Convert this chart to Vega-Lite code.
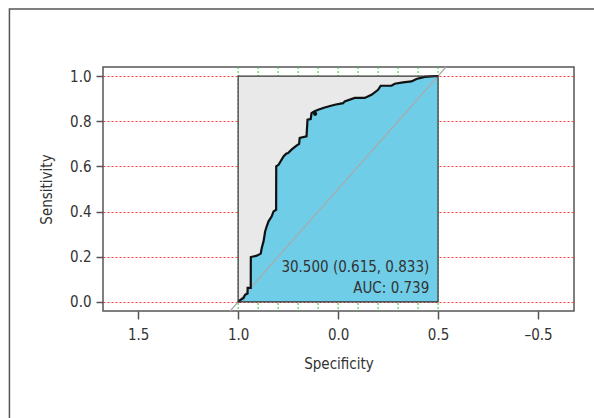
{
  "$schema": "https://vega.github.io/schema/vega-lite/v6.json",
  "width": 471,
  "height": 244,
  "autosize": "none",
  "padding": {"left": 103, "top": 67, "right": 20, "bottom": 107},
  "background": "white",
  "config": {
    "view": {"stroke": "#555555", "strokeWidth": 1.5},
    "font": "DejaVu Sans Condensed, Liberation Sans Narrow, Roboto",
    "axis": {
      "labelFont": "DejaVu Sans Condensed, Liberation Sans Narrow, Roboto",
      "titleFont": "DejaVu Sans Condensed, Liberation Sans Narrow, Roboto",
      "labelFontSize": 15,
      "titleFontSize": 15,
      "titleFontWeight": "normal",
      "labelColor": "#333333",
      "titleColor": "#333333",
      "tickColor": "#555555",
      "tickWidth": 1.5,
      "domain": false
    }
  },
  "datasets": {
    "roc": [
      {"spec": 0.0, "sens": 1.0},
      {"spec": 0.017, "sens": 1.0},
      {"spec": 0.067, "sens": 0.996},
      {"spec": 0.108, "sens": 0.987},
      {"spec": 0.133, "sens": 0.976},
      {"spec": 0.175, "sens": 0.972},
      {"spec": 0.217, "sens": 0.966},
      {"spec": 0.233, "sens": 0.957},
      {"spec": 0.287, "sens": 0.957},
      {"spec": 0.3, "sens": 0.939},
      {"spec": 0.333, "sens": 0.917},
      {"spec": 0.367, "sens": 0.903},
      {"spec": 0.417, "sens": 0.903},
      {"spec": 0.467, "sens": 0.888},
      {"spec": 0.475, "sens": 0.88},
      {"spec": 0.517, "sens": 0.873},
      {"spec": 0.567, "sens": 0.861},
      {"spec": 0.6, "sens": 0.851},
      {"spec": 0.62, "sens": 0.843},
      {"spec": 0.633, "sens": 0.836},
      {"spec": 0.637, "sens": 0.81},
      {"spec": 0.653, "sens": 0.807},
      {"spec": 0.658, "sens": 0.733},
      {"spec": 0.692, "sens": 0.726},
      {"spec": 0.695, "sens": 0.7},
      {"spec": 0.708, "sens": 0.692},
      {"spec": 0.733, "sens": 0.674},
      {"spec": 0.75, "sens": 0.659},
      {"spec": 0.76, "sens": 0.656},
      {"spec": 0.773, "sens": 0.644},
      {"spec": 0.798, "sens": 0.607},
      {"spec": 0.8095, "sens": 0.6},
      {"spec": 0.81, "sens": 0.408},
      {"spec": 0.823, "sens": 0.401},
      {"spec": 0.832, "sens": 0.379},
      {"spec": 0.848, "sens": 0.357},
      {"spec": 0.857, "sens": 0.335},
      {"spec": 0.865, "sens": 0.312},
      {"spec": 0.873, "sens": 0.268},
      {"spec": 0.882, "sens": 0.239},
      {"spec": 0.887, "sens": 0.214},
      {"spec": 0.907, "sens": 0.205},
      {"spec": 0.9365, "sens": 0.199},
      {"spec": 0.937, "sens": 0.062},
      {"spec": 0.9525, "sens": 0.062},
      {"spec": 0.953, "sens": 0.037},
      {"spec": 0.965, "sens": 0.032},
      {"spec": 0.973, "sens": 0.018},
      {"spec": 0.993, "sens": 0.006},
      {"spec": 1.0, "sens": 0.0}
    ],
    "vgrid": [
      {"spec": 0.0}, {"spec": 0.1}, {"spec": 0.2}, {"spec": 0.3}, {"spec": 0.4},
      {"spec": 0.5}, {"spec": 0.6}, {"spec": 0.7}, {"spec": 0.8}, {"spec": 0.9}, {"spec": 1.0}
    ],
    "diag": [
      {"spec": -0.04, "sens": 1.04},
      {"spec": 1.04, "sens": -0.04}
    ],
    "best": [
      {"spec": 0.615, "sens": 0.833}
    ],
    "labels": [
      {"line": 1, "text": "30.500 (0.615, 0.833)"},
      {"line": 2, "text": "AUC: 0.739"}
    ],
    "one": [{"k": 1}]
  },
  "layer": [
    {
      "data": {"name": "vgrid"},
      "mark": {"type": "rule", "color": "#33cc33", "strokeDash": [2, 2], "strokeWidth": 1},
      "encoding": {
        "x": {
          "field": "spec", "type": "quantitative",
          "scale": {"domain": [1.676, -0.68], "nice": false, "zero": false},
          "axis": {
            "title": "Specificity",
            "values": [1.5, 1.0, 0.5, 0.0, -0.5],
            "labelExpr": "datum.value == 0.5 ? '0.0' : datum.value == 0 ? '0.5' : datum.value == -0.5 ? '\u20130.5' : format(datum.value, '.1f')",
            "grid": false,
            "tickSize": 8,
            "labelPadding": 8,
            "titlePadding": 14
          }
        }
      }
    },
    {
      "data": {"name": "one"},
      "mark": {"type": "rect", "fill": "#e8e9e8"},
      "encoding": {
        "x": {"datum": 1.0, "type": "quantitative"},
        "x2": {"datum": 0.0},
        "y": {
          "datum": 0.0, "type": "quantitative",
          "scale": {"domain": [-0.04, 1.04], "nice": false, "zero": false},
          "axis": {
            "title": "Sensitivity",
            "values": [0, 0.2, 0.4, 0.6, 0.8, 1.0],
            "format": ".1f",
            "grid": true,
            "gridColor": "#ff3b3b",
            "gridDash": [2, 2],
            "gridWidth": 1,
            "tickSize": 7,
            "labelPadding": 5,
            "titlePadding": 15
          }
        },
        "y2": {"datum": 1.0}
      }
    },
    {
      "data": {"name": "roc"},
      "mark": {"type": "area", "fill": "#6fcde8", "fillOpacity": 1},
      "encoding": {
        "x": {"field": "spec", "type": "quantitative"},
        "y": {"field": "sens", "type": "quantitative"},
        "y2": {"datum": 0}
      }
    },
    {
      "data": {"name": "diag"},
      "mark": {"type": "line", "color": "#aaaaaa", "strokeWidth": 1.2, "clip": false},
      "encoding": {
        "x": {"field": "spec", "type": "quantitative"},
        "y": {"field": "sens", "type": "quantitative"}
      }
    },
    {
      "data": {"name": "roc"},
      "mark": {"type": "line", "color": "#111111", "strokeWidth": 2.2, "strokeJoin": "miter"},
      "encoding": {
        "x": {"field": "spec", "type": "quantitative"},
        "y": {"field": "sens", "type": "quantitative"}
      }
    },
    {
      "data": {"name": "best"},
      "mark": {"type": "point", "filled": true, "color": "#111111", "size": 18, "opacity": 1},
      "encoding": {
        "x": {"field": "spec", "type": "quantitative"},
        "y": {"field": "sens", "type": "quantitative"}
      }
    },
    {
      "data": {"name": "one"},
      "mark": {"type": "rect", "fill": null, "stroke": "#333333", "strokeWidth": 1.2},
      "encoding": {
        "x": {"datum": 1.0, "type": "quantitative"},
        "x2": {"datum": 0.0},
        "y": {"datum": 0.0, "type": "quantitative"},
        "y2": {"datum": 1.0}
      }
    },
    {
      "data": {"name": "labels"},
      "transform": [{"filter": "datum.line == 1"}],
      "mark": {"type": "text", "align": "right", "baseline": "alphabetic", "fontSize": 15, "color": "#333333"},
      "encoding": {
        "x": {"datum": 0.044, "type": "quantitative"},
        "y": {"datum": 0.133, "type": "quantitative"},
        "text": {"field": "text"}
      }
    },
    {
      "data": {"name": "labels"},
      "transform": [{"filter": "datum.line == 2"}],
      "mark": {"type": "text", "align": "right", "baseline": "alphabetic", "fontSize": 15, "color": "#333333"},
      "encoding": {
        "x": {"datum": 0.044, "type": "quantitative"},
        "y": {"datum": 0.04, "type": "quantitative"},
        "text": {"field": "text"}
      }
    },
    {
      "data": {"name": "one"},
      "mark": {"type": "rect", "fill": null, "stroke": "#555555", "strokeWidth": 1.5, "clip": false},
      "encoding": {
        "x": {"datum": 2.144, "type": "quantitative"},
        "x2": {"datum": -1.6},
        "y": {"datum": 1.297, "type": "quantitative"},
        "y2": {"datum": -0.7}
      }
    }
  ]
}
